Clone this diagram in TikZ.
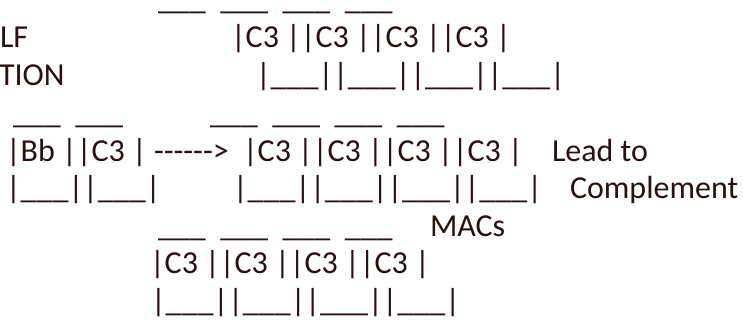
\documentclass[tikz,border=0pt]{standalone}
\usepackage{fontspec}
\setmainfont{Carlito}[Ligatures=TeXOff]
\definecolor{ink}{RGB}{42,16,16}
\begin{document}
\begin{tikzpicture}[x=1pt,y=1pt,
  txt/.style={inner sep=0pt, outer sep=0pt, anchor=base west, text=ink, font=\fontsize{32}{38}\selectfont}]
\useasboundingbox[fill=white] (0,0) rectangle (743,-329);
% row 0
\node[txt] (r0) at (158,-10) {\_\_\_~~\_\_\_~~\_\_\_~~\_\_\_};
% row 1
\node[txt] (lf) at (0,-48) {LF};
\node[txt] (r1) at (231,-48) {|C3 ||C3 ||C3 ||C3 |};
% row 2
\node[txt] (tion) at (-1,-85.5) {TION};
\node[txt] (r2) at (256,-85.5) {|\_\_\_||\_\_\_||\_\_\_||\_\_\_|};
% row 3
\node[txt] (r3a) at (13,-123) {\_\_\_~~\_\_\_};
\node[txt] (r3b) at (210,-123) {\_\_\_~~\_\_\_~~\_\_\_~~\_\_\_};
% row 4
\node[txt] (r4a) at (6,-161) {|Bb ||C3 | ------>};
\node[txt] (r4b) at (243,-161) {|C3 ||C3 ||C3 ||C3 |};
\node[txt] (lead) at (552,-161) {Lead to};
% row 5
\node[txt] (r5a) at (6,-198.5) {|\_\_\_||\_\_\_|};
\node[txt] (r5b) at (233,-198.5) {|\_\_\_||\_\_\_||\_\_\_||\_\_\_|};
\node[txt] (comp) at (570,-198.5) {Complement};
% row 6
\node[txt] (r6) at (158,-236) {\_\_\_~~\_\_\_~~\_\_\_~~\_\_\_};
\node[txt] (macs) at (430,-236) {MACs};
% row 7
\node[txt] (r7) at (150,-273.5) {|C3 ||C3 ||C3 ||C3 |};
% row 8
\node[txt] (r8) at (151,-311) {|\_\_\_||\_\_\_||\_\_\_||\_\_\_|};
\end{tikzpicture}
\end{document}
